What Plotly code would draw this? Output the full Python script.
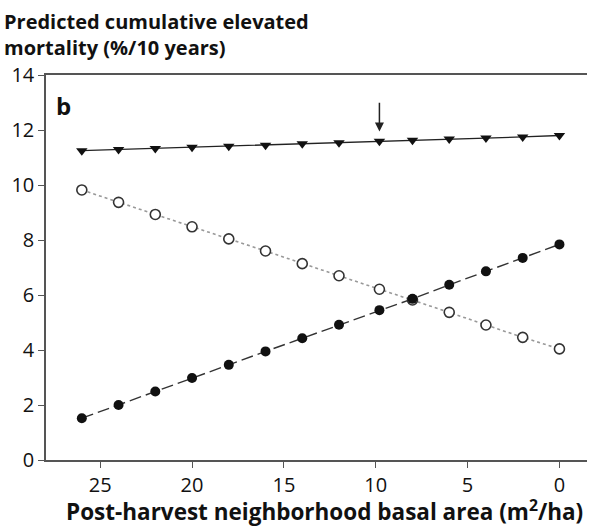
import plotly.graph_objects as go

basal_area = [26, 24, 22, 20, 18, 16, 14, 12, 9.8, 8, 6, 4, 2, 0]
triangles = [11.25, 11.29, 11.33, 11.37, 11.41, 11.45, 11.50, 11.54, 11.59, 11.63, 11.67, 11.71, 11.75, 11.80]
open_circles = [9.82, 9.37, 8.93, 8.48, 8.04, 7.60, 7.14, 6.70, 6.21, 5.82, 5.37, 4.91, 4.46, 4.04]
filled_circles = [1.52, 2.00, 2.49, 2.98, 3.46, 3.95, 4.43, 4.92, 5.45, 5.86, 6.37, 6.86, 7.35, 7.84]
x_ticks = [25, 20, 15, 10, 5, 0]
y_ticks = [0, 2, 4, 6, 8, 10, 12, 14]
arrow_x = 9.8
arrow_from, arrow_to = 13.05, 11.95

FONT = "Open Sans"

fig = go.Figure()
fig.add_trace(go.Scatter(
    x=basal_area, y=triangles, mode="lines+markers",
    line=dict(color="#222", width=1.3),
    marker=dict(symbol="triangle-down", size=10, color="#111"),
))
fig.add_trace(go.Scatter(
    x=basal_area, y=open_circles, mode="lines+markers",
    line=dict(color="#999", width=1.6, dash="dot"),
    marker=dict(symbol="circle", size=10, color="white", line=dict(color="#333", width=1.6)),
))
fig.add_trace(go.Scatter(
    x=basal_area, y=filled_circles, mode="lines+markers",
    line=dict(color="#333", width=1.4, dash="12px,5px"),
    marker=dict(symbol="circle", size=10, color="#111"),
))

fig.update_layout(
    width=589, height=531,
    margin=dict(l=46, r=2, t=75, b=71),
    paper_bgcolor="white", plot_bgcolor="white",
    showlegend=False,
    font=dict(family=FONT, size=17, color="#111"),
    xaxis=dict(
        range=[27.95, -1.5], tickvals=x_ticks, ticks="outside", ticklen=6,
        tickcolor="#555", showline=True, linecolor="#555", linewidth=1.5,
        mirror=True, showgrid=False, zeroline=False,
        tickfont=dict(size=20),
    ),
    yaxis=dict(
        range=[0, 14], tickvals=y_ticks, ticks="outside", ticklen=6,
        tickcolor="#555", showline=True, linecolor="#555", linewidth=1.5,
        showgrid=False, zeroline=False, tickfont=dict(size=20),
    ),
    annotations=[
        dict(text="<b>Predicted cumulative elevated<br>mortality (%/10 years)</b>",
             xref="paper", yref="paper", x=-0.082, y=1.18, xanchor="left", yanchor="top",
             align="left", showarrow=False, font=dict(size=20)),
        dict(text="<b>Post-harvest neighborhood basal area (m<sup>2</sup>/ha)</b>",
             xref="paper", yref="paper", x=0.5157, y=-0.13, xanchor="center", yanchor="middle",
             showarrow=False, font=dict(size=22.5)),
        dict(text="<b>b</b>", xref="paper", yref="paper", x=0.015, y=0.97,
             xanchor="left", yanchor="top", showarrow=False, font=dict(size=24)),
        dict(x=arrow_x, y=arrow_to, ax=arrow_x, ay=arrow_from, xref="x", yref="y",
             axref="x", ayref="y", text="", showarrow=True, arrowhead=2,
             arrowsize=1.2, arrowwidth=1.5, arrowcolor="#222"),
    ],
)

fig.write_html("out.html")
